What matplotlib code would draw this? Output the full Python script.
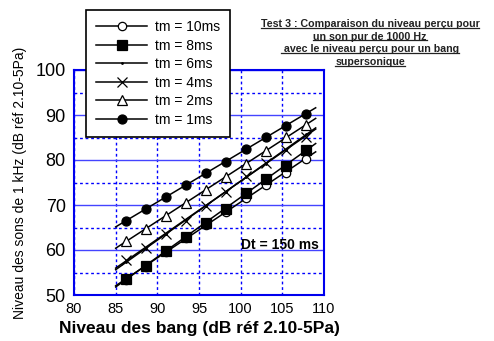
import numpy as np
import matplotlib.pyplot as plt
from matplotlib.lines import Line2D
from matplotlib.ticker import MultipleLocator

plt.rcParams['font.family'] = ['Liberation Sans', 'DejaVu Sans']

# niveau des bang (dB)
bang = [86.2, 88.6, 91.0, 93.4, 95.8, 98.2, 100.6, 103.0, 105.4, 107.8]

# niveau des sons de 1 kHz pour chaque tm
tm10 = [53.4, 56.3, 59.6, 62.6, 65.6, 68.5, 71.5, 74.4, 77.2, 80.2]
tm8 = [53.6, 56.4, 59.8, 62.9, 66.0, 69.1, 72.7, 75.8, 78.7, 82.2]
tm6 = [57.3, 60.3, 63.5, 66.6, 69.8, 72.9, 76.2, 79.2, 82.3, 85.7]
tm4 = [57.8, 60.5, 63.5, 66.5, 69.8, 73.0, 76.5, 79.3, 82.2, 85.1]
tm2 = [62.0, 64.7, 67.6, 70.4, 73.3, 76.2, 79.1, 82.0, 85.1, 87.8]
tm1 = [66.4, 69.1, 71.8, 74.4, 77.1, 79.6, 82.4, 85.1, 87.6, 90.2]

labels = ["tm = 10ms", "tm = 8ms", "tm = 6ms", "tm = 4ms", "tm = 2ms", "tm = 1ms"]
fit_range = [85, 109]

styles = [
    dict(marker='o', ms=6, mfc='white', mew=0.9),
    dict(marker='s', ms=6.5, mfc='black', mew=0.9),
    dict(marker='.', ms=2),
    dict(marker='x', ms=6.5, mew=0.9),
    dict(marker='^', ms=6.5, mfc='white', mew=0.9),
    dict(marker='o', ms=6.5, mfc='black', mew=0.9),
]

fig = plt.figure(figsize=(4.94, 3.41), dpi=100)
ax = fig.add_axes([74/494, 46/341, 250/494, 225/341])

handles = []
for lab, vals, st in zip(labels, [tm10, tm8, tm6, tm4, tm2, tm1], styles):
    a, b = np.polyfit(bang, vals, 1)
    xs = np.array(fit_range, dtype=float)
    ax.plot(xs, a*xs + b, color='black', lw=1.1, zorder=3)
    ax.plot(bang, vals, ls='none', color='black', zorder=4, **st)
    handles.append(Line2D([], [], color='black', lw=1.1, **st))

ax.set_xlim(80, 110)
ax.set_ylim(50, 100)
ax.xaxis.set_major_locator(MultipleLocator(5))
ax.yaxis.set_major_locator(MultipleLocator(10))
ax.yaxis.set_minor_locator(MultipleLocator(5))
ax.grid(axis='x', which='major', color='#0000ff', lw=1, ls=(0, (2, 2)))
ax.grid(axis='y', which='major', color='#4444ff', lw=1, ls='-')
ax.grid(axis='y', which='minor', color='#0000ff', lw=1, ls=(0, (2, 2)))
ax.set_axisbelow(True)
for s in ax.spines.values():
    s.set_color('#0000ee')
    s.set_linewidth(1.5)
ax.tick_params(axis='both', which='both', length=0)
ax.tick_params(axis='x', labelsize=10.5, pad=5)
ax.tick_params(axis='y', labelsize=13, pad=6)

ax.set_xlabel("Niveau des bang (dB réf 2.10-5Pa)", fontsize=12.5, fontweight='bold', labelpad=4)
ax.set_ylabel("Niveau des sons de 1 kHz (dB réf 2.10-5Pa)", fontsize=10, labelpad=6)

ax.text(0.978, 0.222, "Dt = 150 ms", transform=ax.transAxes, ha='right', va='center',
        fontsize=10, fontweight='bold')

leg = ax.legend(handles, labels, loc='upper left', bbox_to_anchor=(86/494, 1 - 10/341),
                bbox_transform=fig.transFigure, fontsize=10, frameon=True, fancybox=False,
                framealpha=1, edgecolor='black', handlelength=3.7, labelspacing=0.33,
                borderaxespad=0, borderpad=0.72, handletextpad=0.55)
leg.get_frame().set_linewidth(1.2)
leg.set_zorder(10)

title_lines = ["Test 3 : Comparaison du niveau perçu pour",
               "un son pur de 1000 Hz",
               " avec le niveau perçu pour un bang",
               "supersonique"]
texts = []
for i, line in enumerate(title_lines):
    t = fig.text(370/494, 1 - (27 + 12.7*i)/341, line, ha='center', va='baseline',
                 fontsize=7.7, fontweight='bold', color='#222222')
    texts.append(t)

fig.canvas.draw()
r = fig.canvas.get_renderer()
W, H = fig.bbox.width, fig.bbox.height
for t in texts:
    bb = t.get_window_extent(r)
    yb = (bb.y0 + 1.5) / H
    fig.add_artist(Line2D([bb.x0/W, bb.x1/W], [yb, yb], transform=fig.transFigure,
                          color='#222222', lw=0.9))

fig.savefig("out.png", dpi=100)
